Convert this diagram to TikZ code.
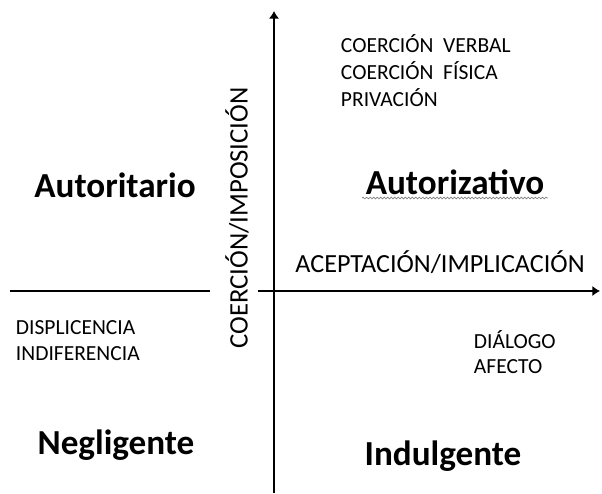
\documentclass[tikz,border=0pt]{standalone}
\usepackage{fontspec}
\setmainfont{Carlito}
\usetikzlibrary{arrows.meta}
\usetikzlibrary{decorations.pathmorphing}

\tikzset{
    axis/.style = {line width = 1.5pt},
    tip/.style = {-{Latex[length = 5.5pt, width = 7.5pt]}},
    small/.style = {font = \fontsize{15.3}{17}\selectfont, anchor = west},
    big/.style = {font = \fontsize{25}{28}\selectfont\bfseries}
}

\begin{document}
\begin{tikzpicture}[x = 0.025cm, y = -0.025cm]
        \useasboundingbox (0, 0) rectangle (602, 493);

        \coordinate (top) at (274, 11);
        \coordinate (bottom) at (274, 493);
        \coordinate (left) at (10, 291);
        \coordinate (leftend) at (210, 291);
        \coordinate (rightstart) at (258, 291);
        \coordinate (right) at (600, 291);

        \draw[axis, tip] (bottom) -- (top);
        \draw[axis] (left) -- (leftend);
        \draw[axis, tip] (rightstart) -- (right);

        \node[font = \fontsize{19}{21}\selectfont, rotate = 90] (coercion)
            at (237, 218) {COERCIÓN/IMPOSICIÓN};
        \node[font = \fontsize{18.6}{21}\selectfont] (aceptacion)
            at (440, 262) {ACEPTACIÓN/IMPLICACIÓN};

        \node[small] (verbal) at (336, 44) {COERCIÓN\ \ VERBAL};
        \node[small] (fisica) at (336, 71) {COERCIÓN\ \ FÍSICA};
        \node[small] (privacion) at (336, 98) {PRIVACIÓN};

        \node[small] (displicencia) at (11, 328) {DISPLICENCIA};
        \node[small] (indiferencia) at (11, 354) {INDIFERENCIA};

        \node[small] (dialogo) at (469, 340) {DIÁLOGO};
        \node[small] (afecto) at (469, 367) {AFECTO};

        \node[big] (autoritario) at (115, 185) {Autoritario};
        \node[big] (autorizativo) at (455, 182) {Autorizativo};
        \node[big] (negligente) at (116, 445) {Negligente};
        \node[big] (indulgente) at (443, 456) {Indulgente};

        % spell-check squiggle
        \coordinate (squigglestart) at (362, 198);
        \coordinate (squiggleend) at (548, 198);
        \draw[gray, line width = 0.5pt,
            decorate, decoration = {snake, amplitude = 0.6pt, segment length = 2.5pt}]
            (squigglestart) -- (squiggleend);
        \end{tikzpicture}
\end{document}
